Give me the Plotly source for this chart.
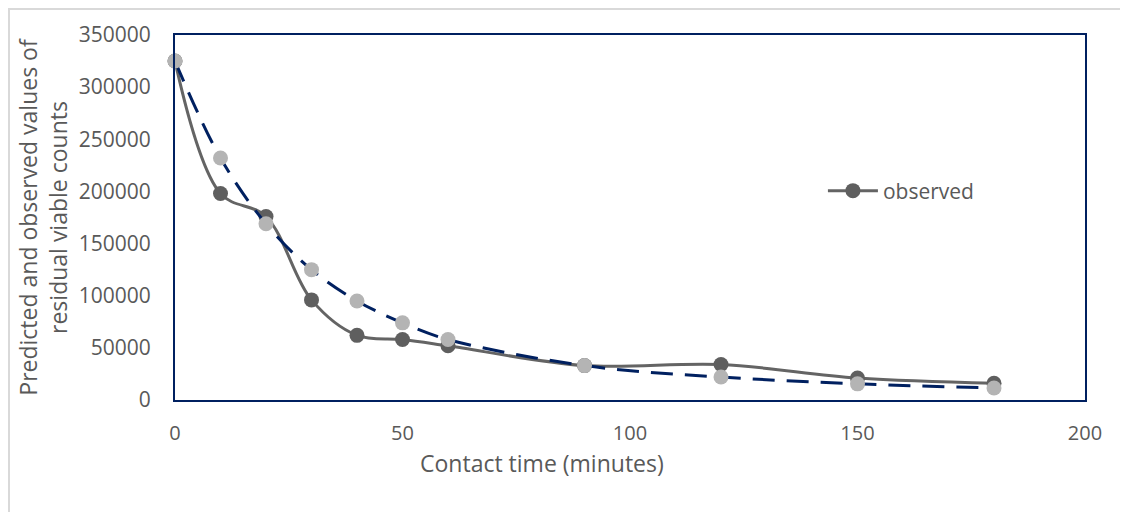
import plotly.graph_objects as go

time_min = [0, 10, 20, 30, 40, 50, 60, 90, 120, 150, 180]
observed = [325000, 198000, 176000, 96000, 62000, 58000, 52000, 33000, 34000, 21000, 16000]
predicted = [325000, 232000, 169000, 125000, 95000, 74000, 58000, 33000, 22000, 15500, 11500]

x_ticks = [0, 50, 100, 150, 200]
y_ticks = [0, 50000, 100000, 150000, 200000, 250000, 300000, 350000]
y_tick_text = [str(v) for v in y_ticks]

FONT = "Open Sans"
TXT = "#595959"
NAVY = "#002060"

fig = go.Figure()
fig.add_trace(go.Scatter(
    x=time_min, y=observed, name="observed", mode="lines+markers",
    line=dict(color="#646464", width=3, shape="spline", smoothing=1),
    marker=dict(color="#5f5f5f", size=15),
    cliponaxis=False,
))
fig.add_trace(go.Scatter(
    x=time_min, y=predicted, name="predicted", mode="lines+markers",
    line=dict(color=NAVY, width=3, shape="spline", smoothing=1, dash="22px,12px"),
    marker=dict(color="#b4b4b4", size=15),
    showlegend=False, cliponaxis=False,
))

# figure is placed at (8,8) in the page; plot area targets screen 175..1085 x 35..400
fig.update_layout(
    width=1120, height=504,
    margin=dict(l=167, r=43, t=27, b=112),
    paper_bgcolor="white", plot_bgcolor="white",
    font=dict(family=FONT, color=TXT, size=20),
    legend=dict(x=0.712, y=0.5726, xanchor="left", yanchor="middle", itemwidth=50,
                bgcolor="rgba(0,0,0,0)", font=dict(size=21, color=TXT)),
    shapes=[dict(type="rect", xref="paper", yref="paper",
                 x0=-0.1824, y0=-0.6, x1=1.2, y1=1.0712,
                 line=dict(color="#d9d9d9", width=2), layer="below")],
    annotations=[dict(text="Contact time (minutes)", xref="paper", yref="paper",
                      x=0.403, y=-0.1726, xanchor="center", yanchor="middle",
                      showarrow=False, font=dict(size=23, color=TXT))],
)
fig.update_xaxes(
    range=[0, 200], tickvals=x_ticks, ticks="", showgrid=False, zeroline=False,
    showline=True, mirror=True, linecolor=NAVY, linewidth=2,
    tickfont=dict(size=20, color=TXT), ticklabelstandoff=14,
)
fig.update_yaxes(
    range=[0, 350000], tickvals=y_ticks, ticktext=y_tick_text, ticks="",
    showgrid=False, zeroline=False,
    showline=True, mirror=True, linecolor=NAVY, linewidth=2,
    tickfont=dict(size=21, color=TXT), ticklabelstandoff=18,
    title=dict(text="Predicted and observed values of<br>residual viable counts",
               font=dict(size=23, color=TXT), standoff=5),
)

fig.write_html("out.html")
